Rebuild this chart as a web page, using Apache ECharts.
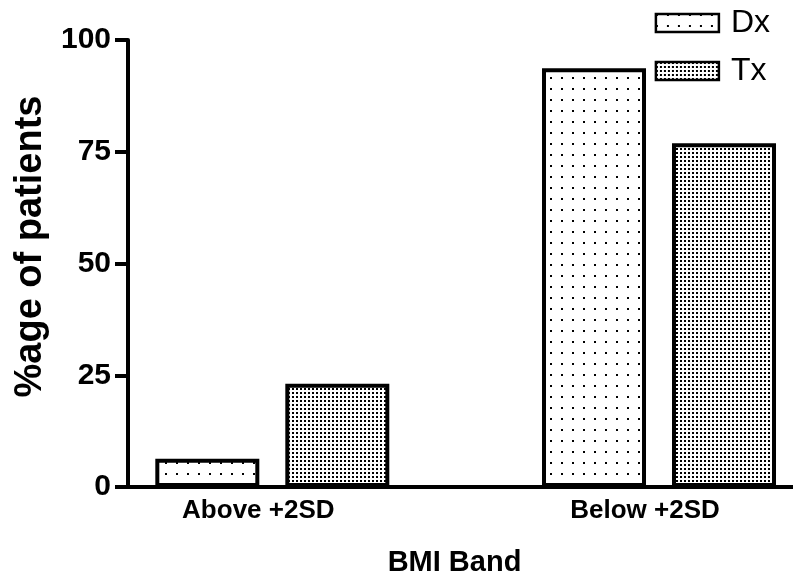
<!DOCTYPE html>
<html>
<head>
<meta charset="utf-8">
<title>BMI Band</title>
<script src="https://cdn.jsdelivr.net/npm/echarts@6/dist/echarts.min.js"></script>
<style>
  html, body { margin: 0; padding: 0; background: #fff; }
  #chart { width: 793px; height: 575px; }
</style>
</head>
<body>
<div id="chart"></div>
<script>
// Data
const categories = ['Above +2SD', 'Below +2SD'];
const seriesNames = ['Dx', 'Tx'];
const dxValues = [6.3, 93.7];
const txValues = [23.1, 76.9];
const yTicks = [0, 25, 50, 75, 100];

const FONT = '"Liberation Sans", Arial, Helvetica, sans-serif';

// Dotted fill patterns drawn on small tiles
function dotTile(size, dot, color) {
  const c = document.createElement('canvas');
  c.width = size; c.height = size;
  const ctx = c.getContext('2d');
  ctx.fillStyle = '#fff';
  ctx.fillRect(0, 0, size, size);
  ctx.fillStyle = color;
  ctx.fillRect(0, 0, dot, dot);
  return c;
}
const sparseDots = { image: dotTile(11, 2, '#000'), repeat: 'repeat' };
const denseDots = { image: dotTile(4, 2, '#000'), repeat: 'repeat' };

// Category positions on the base axis (1, 2, ...)
const toPoints = vals => vals.map((v, i) => [i + 1, v]);

const chart = echarts.init(document.getElementById('chart'), null, { renderer: 'canvas' });

chart.setOption({
  animation: false,
  backgroundColor: '#fff',
  grid: { left: 128, right: 0, top: 40, bottom: 88, containLabel: false, outerBoundsMode: 'none' },
  legend: {
    orient: 'vertical',
    right: 18,
    top: 2,
    itemWidth: 63,
    itemHeight: 18,
    itemGap: 16,
    icon: 'rect',
    itemStyle: { borderWidth: 2.5, borderColor: '#000' },
    textStyle: { fontFamily: FONT, fontSize: 32, color: '#000', padding: [0, 0, 0, 7] },
    data: seriesNames
  },
  xAxis: {
    type: 'value',
    min: 0.6268,
    max: 2.3465,
    name: 'BMI Band',
    nameLocation: 'middle',
    nameGap: 61,
    nameTextStyle: { fontFamily: FONT, fontSize: 29, fontWeight: 'bold', color: '#000', padding: [0, 12, 0, 0] },
    axisLine: { show: true, onZero: false, lineStyle: { color: '#000', width: 4 } },
    axisTick: { show: false },
    splitLine: { show: false },
    axisLabel: {
      customValues: categories.map((c, i) => i + 1),
      formatter: v => categories[Math.round(v) - 1] || '',
      margin: 11,
      fontFamily: FONT,
      fontSize: 26,
      fontWeight: 'bold',
      color: '#000',
      padding: [0, 28, 0, 0]
    }
  },
  yAxis: {
    type: 'value',
    min: yTicks[0],
    max: yTicks[yTicks.length - 1],
    interval: 25,
    name: '%age of patients',
    nameLocation: 'middle',
    nameGap: 78,
    nameRotate: 90,
    nameTextStyle: { fontFamily: FONT, fontSize: 38, fontWeight: 'bold', color: '#000', padding: [0, 0, 0, 34] },
    axisLine: { show: true, lineStyle: { color: '#000', width: 4 } },
    axisTick: { show: true, length: 13, lineStyle: { color: '#000', width: 4 } },
    splitLine: { show: false },
    axisLabel: {
      margin: 17,
      fontFamily: FONT,
      fontSize: 30,
      fontWeight: 'bold',
      color: '#000'
    }
  },
  series: [
    {
      name: seriesNames[0],
      type: 'bar',
      data: toPoints(dxValues),
      barWidth: 104,
      barGap: '25%',
      itemStyle: { color: sparseDots, borderColor: '#000', borderWidth: 4 }
    },
    {
      name: seriesNames[1],
      type: 'bar',
      data: toPoints(txValues),
      barWidth: 104,
      barGap: '25%',
      itemStyle: { color: denseDots, borderColor: '#000', borderWidth: 4 }
    }
  ]
});
</script>
</body>
</html>
